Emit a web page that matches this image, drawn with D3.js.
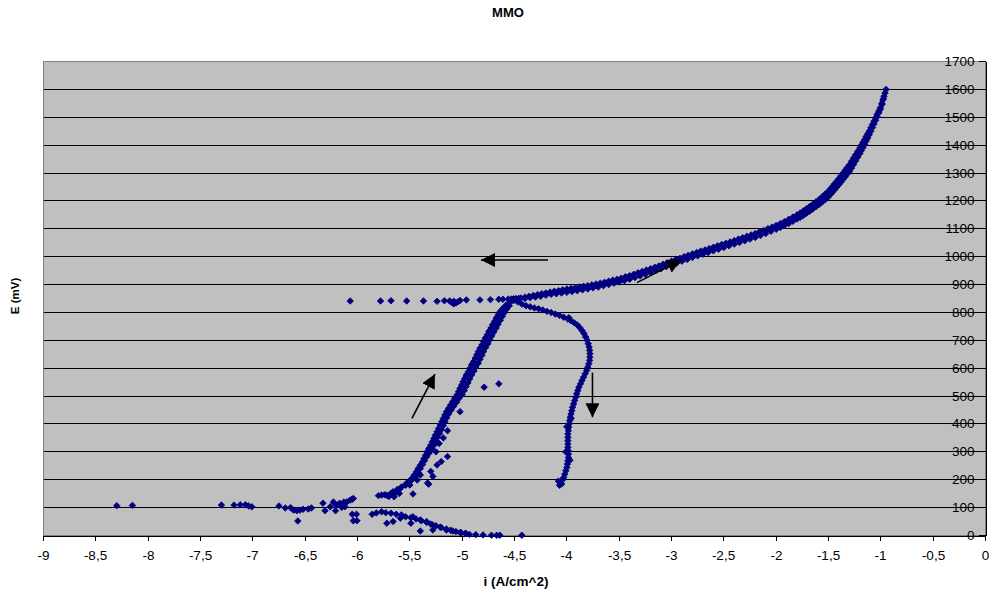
<!DOCTYPE html>
<html>
<head>
<meta charset="utf-8">
<script src="https://cdn.jsdelivr.net/npm/d3@7"></script>
<style>
  html, body { margin: 0; padding: 0; background: #fff; }
  svg { display: block; font-family: Arial, "Liberation Sans", sans-serif; }
</style>
</head>
<body>
<svg id="chart" width="993" height="596"></svg>
<script>
// Axis ticks
const xTicks = [-9, -8.5, -8, -7.5, -7, -6.5, -6, -5.5, -5, -4.5, -4, -3.5, -3, -2.5, -2, -1.5, -1, -0.5, 0];
const yTicks = [0, 100, 200, 300, 400, 500, 600, 700, 800, 900, 1000, 1100, 1200, 1300, 1400, 1500, 1600, 1700];

// Polarisation data, [log i (A/cm^2), E (mV)]
// forward anodic sweep up to 1600 mV
const anodicForward = [
  [-4.48,849],[-4.44,852],[-4.40,855],[-4.36,858],[-4.32,861],[-4.28,864],[-4.24,867],[-4.20,870],
  [-4.16,873],[-4.12,876],[-4.08,878],[-4.04,881],[-4.00,884],[-3.96,886],[-3.92,889],[-3.88,891],
  [-3.84,894],[-3.80,896],[-3.76,899],[-3.72,902],[-3.68,905],[-3.64,908],[-3.60,912],[-3.56,916],
  [-3.52,919],[-3.48,923],[-3.44,928],[-3.40,932],[-3.36,937],[-3.32,942],[-3.28,947],[-3.24,952],
  [-3.20,957],[-3.16,962],[-3.12,967],[-3.08,973],[-3.04,978],[-3.00,984],[-2.96,989],[-2.92,994],
  [-2.88,1000],[-2.84,1005],[-2.80,1010],[-2.76,1015],[-2.72,1020],[-2.68,1024],[-2.64,1029],[-2.60,1034],
  [-2.56,1039],[-2.52,1044],[-2.48,1048],[-2.44,1053],[-2.40,1058],[-2.36,1063],[-2.32,1068],[-2.28,1073],
  [-2.24,1078],[-2.20,1083],[-2.16,1089],[-2.12,1094],[-2.08,1100],[-2.04,1106],[-2.00,1112],[-1.96,1119],
  [-1.92,1126],[-1.88,1134],[-1.84,1142],[-1.80,1150],[-1.77,1157],[-1.74,1164],[-1.71,1172],[-1.68,1180],
  [-1.65,1188],[-1.62,1196],[-1.59,1205],[-1.56,1215],[-1.53,1225],[-1.50,1235],[-1.48,1244],[-1.46,1253],
  [-1.44,1262],[-1.42,1271],[-1.40,1280],[-1.38,1290],[-1.36,1300],[-1.34,1310],[-1.32,1320],[-1.30,1330],
  [-1.28,1342],[-1.26,1354],[-1.24,1366],[-1.22,1378],[-1.20,1390],[-1.185,1400],[-1.17,1410],[-1.155,1420],
  [-1.14,1431],[-1.125,1441],[-1.11,1451],[-1.095,1462],[-1.08,1474],[-1.065,1486],[-1.05,1498],[-1.035,1510],
  [-1.02,1522],[-1.005,1534],[-0.99,1550],[-0.98,1562],[-0.97,1575],[-0.96,1587],[-0.95,1600]
];

// reverse sweep from 1600 mV back down
const anodicReturn = [
  [-0.975,1566],[-0.99,1546],[-1.005,1529],[-1.02,1516],[-1.035,1502],[-1.05,1489],[-1.065,1476],[-1.08,1463],
  [-1.095,1450],[-1.11,1438],[-1.125,1426],[-1.14,1415],[-1.155,1403],[-1.17,1392],[-1.185,1381],[-1.20,1370],
  [-1.22,1357],[-1.24,1344],[-1.26,1331],[-1.28,1318],[-1.30,1306],[-1.32,1297],[-1.34,1287],[-1.36,1278],
  [-1.38,1268],[-1.40,1259],[-1.42,1250],[-1.44,1241],[-1.46,1232],[-1.48,1224],[-1.50,1215],[-1.53,1205],
  [-1.56,1196],[-1.59,1187],[-1.62,1179],[-1.65,1171],[-1.68,1163],[-1.71,1156],[-1.74,1148],[-1.77,1141],
  [-1.80,1135],[-1.84,1127],[-1.88,1119],[-1.92,1112],[-1.96,1105],[-2.00,1098],[-2.05,1091],[-2.10,1083],
  [-2.15,1076],[-2.20,1069],[-2.25,1063],[-2.30,1057],[-2.35,1051],[-2.40,1045],[-2.45,1039],[-2.50,1033],
  [-2.55,1027],[-2.60,1021],[-2.65,1015],[-2.70,1009],[-2.75,1003],[-2.80,997],[-2.85,990],[-2.90,984],
  [-2.95,977],[-3.00,971],[-3.05,964],[-3.10,957],[-3.15,950],[-3.20,944],[-3.25,937],[-3.30,931],
  [-3.35,925],[-3.40,919],[-3.45,914],[-3.50,909],[-3.55,905],[-3.60,900],[-3.65,896],[-3.70,891],
  [-3.75,888],[-3.80,884],[-3.85,881],[-3.90,878],[-3.95,875],[-4.00,872],[-4.05,870],[-4.10,867],
  [-4.15,865],[-4.20,862],[-4.25,858],[-4.30,855],[-4.35,853],[-4.40,850]
];

// scattered points of the plateau near 840 mV
const plateauPoints = [
  [-6.07,841],[-5.78,841],[-5.68,842],[-5.53,841],[-5.37,841],[-5.24,840],[-5.17,842],[-5.12,841],
  [-5.10,836],[-5.08,831],[-5.06,834],[-5.04,838],[-5.02,843],[-5.08,840],[-4.96,845],[-4.83,845],
  [-4.73,846],[-4.65,847],[-4.61,847],[-4.56,848],[-4.53,848],[-4.51,849],[-4.49,849],[-4.46,850]
];

// cathodic branch turning down to 180 mV
const cathodicBranch = [
  [-4.47,838],[-4.43,830],[-4.39,824],[-4.35,820],[-4.31,816],[-4.27,813],[-4.23,809],[-4.19,804],
  [-4.15,800],[-4.11,794],[-4.07,789],[-4.03,783],[-3.99,776],[-3.98,781],[-3.96,770],[-3.93,763],
  [-3.90,755],[-3.875,745],[-3.855,735],[-3.835,724],[-3.82,712],[-3.805,700],[-3.795,688],[-3.787,676],
  [-3.782,664],[-3.78,652],[-3.78,640],[-3.782,628],[-3.79,616],[-3.80,604],[-3.81,592],[-3.825,580],
  [-3.84,568],[-3.855,556],[-3.87,544],[-3.885,532],[-3.895,520],[-3.905,508],[-3.915,496],[-3.925,484],
  [-3.935,472],[-3.945,460],[-3.952,448],[-3.96,436],[-3.967,424],[-3.972,412],[-3.978,400],[-3.982,388],
  [-3.986,376],[-3.99,364],[-3.99,352],[-3.99,340],[-3.99,328],[-3.99,316],[-3.988,304],[-3.985,292],
  [-3.985,280],[-3.99,268],[-3.995,256],[-4.00,244],[-4.01,232],[-4.02,220],[-4.03,208],[-4.045,198],
  [-4.06,188],[-4.07,180],[-4.00,390],[-3.96,420],[-4.01,300],[-3.97,270],[-4.05,185],[-4.08,195]
];

// rising branch from 140 mV up to the plateau
const risingBranch = [
  [-5.80,143],[-5.77,145],[-5.74,146],[-5.72,144],[-5.68,151],[-5.65,139],[-5.60,151],[-5.66,157],
  [-5.62,165],[-5.58,174],[-5.54,184],[-5.51,194],[-5.48,205],[-5.46,216],[-5.44,228],[-5.42,240],
  [-5.40,252],[-5.38,264],[-5.365,276],[-5.35,288],[-5.335,300],[-5.32,312],[-5.30,324],[-5.285,336],
  [-5.27,348],[-5.255,360],[-5.24,372],[-5.225,384],[-5.21,396],[-5.195,408],[-5.18,420],[-5.165,432],
  [-5.15,444],[-5.13,456],[-5.11,468],[-5.09,480],[-5.07,492],[-5.05,504],[-5.035,516],[-5.02,528],
  [-5.005,540],[-4.99,552],[-4.975,564],[-4.96,576],[-4.94,588],[-4.925,600],[-4.91,612],[-4.89,624],
  [-4.875,636],[-4.86,648],[-4.845,660],[-4.83,672],[-4.81,684],[-4.795,696],[-4.78,708],[-4.76,720],
  [-4.745,732],[-4.725,744],[-4.71,756],[-4.69,768],[-4.675,780],[-4.655,792],[-4.635,804],[-4.61,815],
  [-4.58,826],[-4.55,835],[-4.51,842]
];
const risingBranchOuter = [
  [-5.70,140],[-5.64,152],[-5.60,165],[-5.54,180],[-5.49,196],[-5.45,212],[-5.42,226],[-5.40,240],
  [-5.38,254],[-5.36,268],[-5.34,282],[-5.315,296],[-5.29,310],[-5.27,324],[-5.25,338],[-5.235,352],
  [-5.215,366],[-5.20,380],[-5.18,394],[-5.165,408],[-5.148,422],[-5.13,436],[-5.105,450],[-5.08,464],
  [-5.053,478],[-5.03,492],[-5.00,506],[-4.98,520],[-4.963,534],[-4.945,548],[-4.928,562],[-4.91,576],
  [-4.887,590],[-4.87,604],[-4.847,618],[-4.83,632],[-4.812,646],[-4.795,660],[-4.776,674],[-4.755,688],
  [-4.736,702],[-4.717,716],[-4.697,730],[-4.675,744],[-4.657,758],[-4.636,772],[-4.615,786],[-4.595,800],
  [-4.575,812],[-4.55,824]
];
const strayPoints = [
  [-4.79,532],[-4.65,544],[-5.14,283],[-5.33,188],[-5.24,253],[-5.14,376],[-5.22,330],[-5.20,265],
  [-5.02,444],[-5.12,456],[-5.25,300],[-5.18,350],[-5.30,230],[-5.28,212],[-5.50,181],[-5.43,199],
  [-5.40,217],[-5.32,184],[-5.47,149]
];

// low-potential points around 100 mV
const lowCluster = [
  [-8.30,107],[-8.15,108],[-7.30,109],[-7.18,109],[-7.12,110],[-7.07,110],[-7.04,106],[-7.01,103],
  [-6.75,106],[-6.69,99],[-6.64,100],[-6.61,91],[-6.58,89],[-6.57,52],[-6.55,91],[-6.52,94],
  [-6.47,95],[-6.44,99],[-6.33,116],[-6.31,89],[-6.26,103],[-6.23,120],[-6.21,89],[-6.20,109],
  [-6.17,116],[-6.15,101],[-6.13,120],[-6.12,103],[-6.10,121],[-6.07,127],[-6.05,130],[-6.04,133],
  [-6.05,76],[-6.01,76],[-6.04,53],[-6.005,53]
];

// tail falling to 0 mV
const tailBranch = [
  [-5.86,76],[-5.82,81],[-5.77,85],[-5.73,82],[-5.68,80],[-5.63,76],[-5.58,74],[-5.54,67],
  [-5.49,64],[-5.44,59],[-5.39,53],[-5.34,47],[-5.30,41],[-5.25,35],[-5.20,29],[-5.15,23],
  [-5.11,19],[-5.06,14],[-5.01,10],[-4.96,6],[-4.93,4],[-4.87,3],[-4.80,2],[-4.72,1],
  [-4.67,1],[-4.64,1],[-4.43,1],
  [-5.72,44],[-5.66,50],[-5.59,62],[-5.47,67],[-5.49,44],[-5.40,56],[-5.40,16],[-5.34,50],
  [-5.28,38],[-5.28,20],[-5.21,30],[-5.15,20],[-5.09,16],[-5.02,11],[-4.97,8]
];

// sweep-direction arrows, [from, to] in data units
const arrows = [
  [[-4.18,988],[-4.82,988]],
  [[-3.33,907],[-2.91,988]],
  [[-5.48,420],[-5.26,579]],
  [[-3.755,584],[-3.755,424]]
];

const svg = d3.select("#chart");
const plot = { left: 43.5, right: 985.5, top: 61.5, bottom: 535.5 };

const x = d3.scaleLinear().domain([-9, 0]).range([plot.left, plot.right]);
const y = d3.scaleLinear().domain([0, 1700]).range([plot.bottom, plot.top]);
const snap = v => Math.round(v - 0.5) + 0.5;
const fmt = d => String(d).replace(".", ",");

// plot area
svg.append("rect")
  .attr("x", plot.left).attr("y", plot.top)
  .attr("width", plot.right - plot.left).attr("height", plot.bottom - plot.top)
  .attr("fill", "#c0c0c0").attr("stroke", "#808080").attr("stroke-width", 1);

// horizontal gridlines
svg.append("g").selectAll("line")
  .data(yTicks.filter(v => v > 0 && v < 1700))
  .join("line")
  .attr("x1", plot.left).attr("x2", plot.right)
  .attr("y1", d => snap(y(d))).attr("y2", d => snap(y(d)))
  .attr("stroke", "#000").attr("stroke-width", 1)
  .attr("shape-rendering", "crispEdges");

// y axis on the right edge, labels inside the plot
const yAxis = svg.append("g")
  .attr("transform", `translate(${plot.right},0)`)
  .call(d3.axisLeft(y).tickValues(yTicks).tickSizeInner(7).tickSizeOuter(0).tickPadding(4).tickFormat(d => d));
yAxis.selectAll(".tick").attr("transform", d => `translate(0,${snap(y(d))})`);

// x axis
const xAxis = svg.append("g")
  .attr("transform", `translate(0,${plot.bottom})`)
  .call(d3.axisBottom(x).tickValues(xTicks).tickSizeInner(5).tickSizeOuter(0).tickPadding(10).tickFormat(fmt));
xAxis.selectAll(".tick").attr("transform", d => `translate(${snap(x(d))},0)`);

[xAxis, yAxis].forEach(g => {
  g.attr("font-family", null).attr("font-size", null);
  g.select(".domain").attr("stroke", "#000").attr("shape-rendering", "crispEdges");
  g.selectAll(".tick line").attr("stroke", "#000").attr("shape-rendering", "crispEdges");
  g.selectAll(".tick text").attr("fill", "#000").style("font-size", "13.5px")
    .style("font-family", 'Arial, "Liberation Sans", sans-serif');
});

// data markers: navy diamonds
const diamond = d3.symbol(d3.symbolSquare, 21);
const series = [anodicForward, anodicReturn, plateauPoints, cathodicBranch, risingBranch,
                risingBranchOuter, strayPoints, lowCluster, tailBranch];
const marks = svg.append("g").attr("fill", "#000080").attr("stroke", "#000080").attr("stroke-width", 0.8);
series.forEach(s => {
  marks.append("g").selectAll("path")
    .data(s)
    .join("path")
    .attr("d", diamond)
    .attr("transform", d => `translate(${x(d[0])},${y(d[1])}) rotate(45)`);
});

// sweep-direction arrows
svg.append("defs").append("marker")
  .attr("id", "head")
  .attr("markerUnits", "userSpaceOnUse")
  .attr("viewBox", "0 -7 14 14")
  .attr("refX", 14).attr("refY", 0)
  .attr("markerWidth", 14).attr("markerHeight", 14)
  .attr("orient", "auto")
  .append("path").attr("d", "M0,-7L14,0L0,7Z").attr("fill", "#000");

svg.append("g").selectAll("line")
  .data(arrows)
  .join("line")
  .attr("x1", d => x(d[0][0])).attr("y1", d => y(d[0][1]))
  .attr("x2", d => x(d[1][0])).attr("y2", d => y(d[1][1]))
  .attr("stroke", "#000").attr("stroke-width", 1.6)
  .attr("marker-end", "url(#head)");

// titles
svg.append("text")
  .attr("x", 508).attr("y", 17)
  .attr("text-anchor", "middle")
  .style("font-size", "13px").style("font-weight", "bold")
  .text("MMO");

svg.append("text")
  .attr("x", 516).attr("y", 586)
  .attr("text-anchor", "middle")
  .style("font-size", "13.5px").style("font-weight", "bold")
  .text("i (A/cm^2)");

svg.append("text")
  .attr("transform", "translate(19,296) rotate(-90)")
  .attr("text-anchor", "middle")
  .style("font-size", "11.5px").style("font-weight", "bold")
  .text("E (mV)");
</script>
</body>
</html>
